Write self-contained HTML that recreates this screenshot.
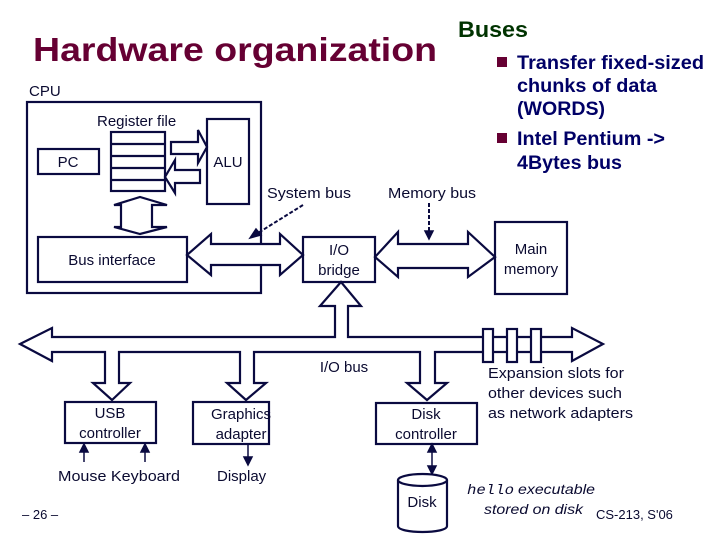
<!DOCTYPE html>
<html><head><style>
body{margin:0;background:#fff;}
svg{display:block;}
text{font-family:"Liberation Sans",Arial,sans-serif;}
</style></head><body>
<svg width="720" height="540" viewBox="0 0 720 540" xmlns="http://www.w3.org/2000/svg">
<text x="33" y="61" font-size="33" font-weight="bold" fill="#660033" textLength="404" lengthAdjust="spacingAndGlyphs">Hardware organization</text>
<text x="458" y="37" font-size="22" font-weight="bold" fill="#003300" textLength="70" lengthAdjust="spacingAndGlyphs">Buses</text>
<rect x="497" y="57" width="10" height="10" fill="#660033"/>
<rect x="497" y="133" width="10" height="10" fill="#660033"/>
<g font-size="19" font-weight="bold" fill="#000066">
<text x="517" y="69" textLength="187" lengthAdjust="spacingAndGlyphs">Transfer fixed-sized</text>
<text x="517" y="92" textLength="140" lengthAdjust="spacingAndGlyphs">chunks of data</text>
<text x="517" y="115" textLength="88" lengthAdjust="spacingAndGlyphs">(WORDS)</text>
<text x="517" y="145" textLength="148" lengthAdjust="spacingAndGlyphs">Intel Pentium -&gt;</text>
<text x="517" y="169" textLength="105" lengthAdjust="spacingAndGlyphs">4Bytes bus</text>
</g>
<g fill="none" stroke="#0a0a40" stroke-width="2.2">
<rect x="27" y="102" width="234" height="191"/>
<rect x="38" y="149" width="61" height="25"/>
<rect x="111" y="132" width="54" height="59"/>
<path d="M111 144H165M111 156H165M111 168H165M111 180H165"/>
<rect x="207" y="119" width="42" height="85"/>
<path d="M171 142H198V130L207 147L198 163V154H171Z" fill="#fff"/>
<path d="M200 170H175V160L165 177L175 193V183H200Z" fill="#fff"/>
<path d="M121 205H114L140 197L167 205H152V227H167L140 234L114 227H121Z" fill="#fff"/>
<rect x="38" y="237" width="149" height="45"/>
<path d="M187 255L211 234V244H280V234L303 255L280 275V265H211V275Z" fill="#fff"/>
<rect x="303" y="237" width="72" height="45"/>
<rect x="495" y="222" width="72" height="72"/>
<path d="M375 257L398 232V244H468V232L495 257L468 277V268H398V277Z" fill="#fff"/>
<path d="M20 344L52 328V337H335V306H320L341 282L361 306H348V337H572V328L603 344L572 361V352H435V383H447L427 400L407 383H420V352H254V383H266L246 400L227 383H240V352H119V383H130L112 400L93 383H105V352H52V361Z" fill="#fff"/>
<rect x="483" y="329" width="10" height="33" fill="#fff"/>
<rect x="507" y="329" width="10" height="33" fill="#fff"/>
<rect x="531" y="329" width="10" height="33" fill="#fff"/>
<rect x="65" y="402" width="91" height="41"/>
<rect x="193" y="402" width="76" height="42"/>
<rect x="376" y="403" width="101" height="41"/>
<path d="M398 480V526C398 534 447 534 447 526V480"/>
<ellipse cx="422.5" cy="480" rx="24.5" ry="6" fill="#fff"/>
</g>
<g stroke="#0a0a40" stroke-width="1.5" fill="#0a0a40">
<path d="M84 462V450"/><path d="M80 452L84 444L88 452Z"/>
<path d="M145 462V450"/><path d="M141 452L145 444L149 452Z"/>
<path d="M248 444V458"/><path d="M244 457L248 465L252 457Z"/>
<path d="M432 452V467"/><path d="M428 452L432 444L436 452Z"/><path d="M428 466L432 474L436 466Z"/>
<path d="M303 205L258 233" stroke-dasharray="4 2" fill="none" stroke-width="2"/><path d="M250 238L256 229L261 235Z"/>
<path d="M429 203V231" stroke-dasharray="4 2" fill="none" stroke-width="2"/><path d="M425 231L429 239L433 231Z"/>
</g>
<g font-size="15" fill="#0a0a30">
<text x="29" y="96">CPU</text>
<text x="97" y="126">Register file</text>
<text x="68" y="167" text-anchor="middle">PC</text>
<text x="228" y="167" text-anchor="middle">ALU</text>
<text x="267" y="198" textLength="84" lengthAdjust="spacingAndGlyphs">System bus</text>
<text x="388" y="198" textLength="88" lengthAdjust="spacingAndGlyphs">Memory bus</text>
<text x="112" y="265" text-anchor="middle">Bus interface</text>
<text x="339" y="255" text-anchor="middle">I/O</text>
<text x="339" y="275" text-anchor="middle">bridge</text>
<text x="531" y="254" text-anchor="middle">Main</text>
<text x="531" y="274" text-anchor="middle">memory</text>
<text x="344" y="372" text-anchor="middle">I/O bus</text>
<text x="488" y="378" textLength="136" lengthAdjust="spacingAndGlyphs">Expansion slots for</text>
<text x="488" y="398" textLength="134" lengthAdjust="spacingAndGlyphs">other devices such</text>
<text x="488" y="418" textLength="145" lengthAdjust="spacingAndGlyphs">as network adapters</text>
<text x="110" y="418" text-anchor="middle">USB</text>
<text x="110" y="438" text-anchor="middle">controller</text>
<text x="241" y="419" text-anchor="middle">Graphics</text>
<text x="241" y="439" text-anchor="middle">adapter</text>
<text x="426" y="419" text-anchor="middle">Disk</text>
<text x="426" y="439" text-anchor="middle">controller</text>
<text x="58" y="481" textLength="122" lengthAdjust="spacingAndGlyphs">Mouse Keyboard</text>
<text x="217" y="481">Display</text>
<text x="422" y="507" text-anchor="middle">Disk</text>
<text x="467" y="494" style="font-family:'Liberation Mono',monospace;font-style:italic;font-size:14px" textLength="47" lengthAdjust="spacingAndGlyphs">hello</text>
<text x="518" y="494" font-style="italic" font-size="14" textLength="77" lengthAdjust="spacingAndGlyphs">executable</text>
<text x="484" y="514" font-style="italic" font-size="14" textLength="99" lengthAdjust="spacingAndGlyphs">stored on disk</text>
<text x="596" y="519" font-size="13">CS-213, S'06</text>
<text x="22" y="519" font-size="13">– 26 –</text>
</g>
</svg>
</body></html>
